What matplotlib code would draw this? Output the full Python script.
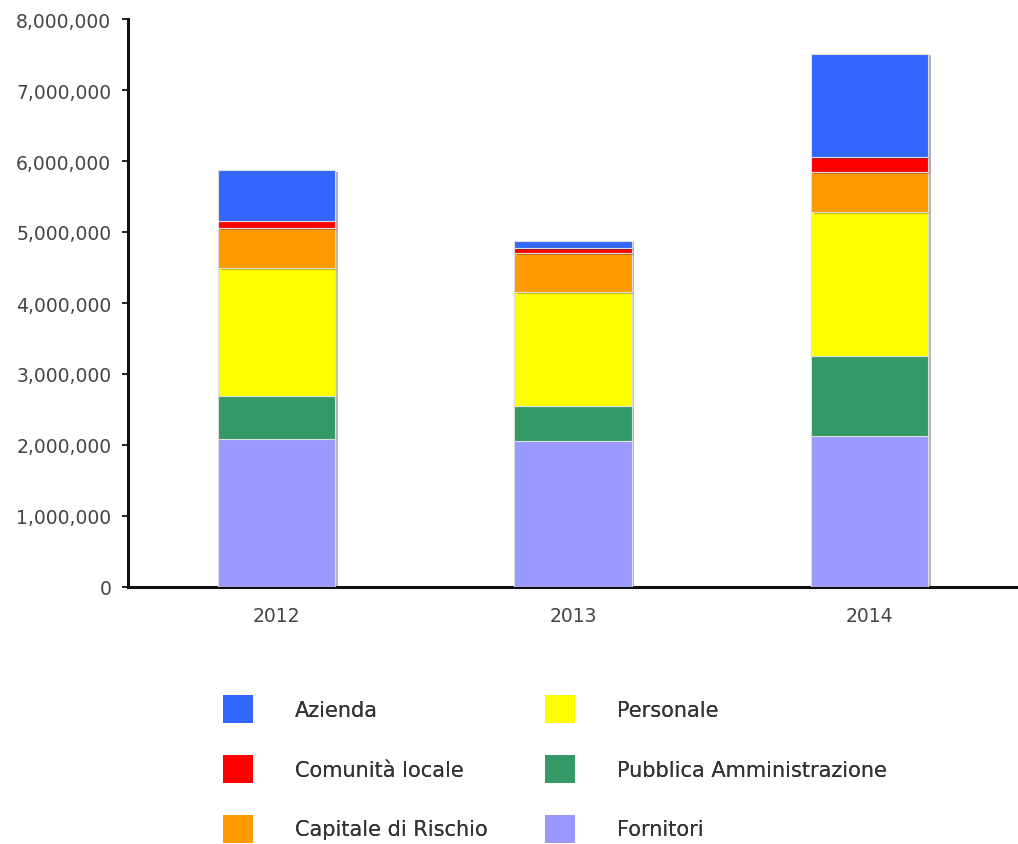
import numpy as np
import matplotlib.pyplot as plt
import matplotlib.patheffects as pe
from matplotlib.patches import Patch
from matplotlib.ticker import FuncFormatter

plt.rcParams['font.family'] = ['DejaVu Sans']

# Dati
anni = ['2012', '2013', '2014']
fornitori = [2090000, 2060000, 2130000]
pubblica_amm = [600000, 490000, 1130000]
personale = [1800000, 1600000, 2020000]
capitale_rischio = [560000, 550000, 560000]
comunita_locale = [110000, 70000, 210000]
azienda = [710000, 110000, 1460000]

serie = [
    ('Fornitori', fornitori, '#9999FF'),
    ('Pubblica Amministrazione', pubblica_amm, '#339966'),
    ('Personale', personale, '#FFFF00'),
    ('Capitale di Rischio', capitale_rischio, '#FF9900'),
    ('Comunità locale', comunita_locale, '#FF0000'),
    ('Azienda', azienda, '#3366FF'),
]

fig = plt.figure(figsize=(10.18, 8.45), dpi=100)
ax = fig.add_axes([128 / 1018, 1 - 588 / 845, 1 - 128 / 1018, (588 - 20) / 845])

x = np.arange(len(anni))
base = np.zeros(len(anni))
for nome, valori, colore in serie:
    bars = ax.bar(x, valori, 0.395, bottom=base, color=colore,
                  edgecolor='#dddddd', linewidth=0.8, zorder=3)
    for b in bars:
        b.set_path_effects([pe.SimplePatchShadow(offset=(2, -1), alpha=0.35),
                            pe.Normal()])
    base += np.array(valori)

ax.set_xlim(-0.5, 2.5)
ax.set_ylim(0, 8000000)
ax.set_yticks(np.arange(0, 8000001, 1000000))
ax.yaxis.set_major_formatter(FuncFormatter(lambda v, p: f'{int(v):,}'))
ax.set_xticks(x)
ax.set_xticklabels(anni)

for s in ['top', 'right']:
    ax.spines[s].set_visible(False)
for s in ['left', 'bottom']:
    ax.spines[s].set_linewidth(2.2)
    ax.spines[s].set_color('#111111')

ax.tick_params(axis='y', length=4, width=1.2, labelsize=13.5, labelcolor='#444444', pad=8)
ax.tick_params(axis='x', length=0, labelsize=13.5, labelcolor='#444444', pad=14)

# Legenda (due colonne)
colori = {n: c for n, v, c in serie}
colonne = [
    (['Azienda', 'Comunità locale', 'Capitale di Rischio'], 223),
    (['Personale', 'Pubblica Amministrazione', 'Fornitori'], 545),
]
for nomi, xpos in colonne:
    handles = [Patch(facecolor=colori[n], edgecolor='none', label=n) for n in nomi]
    leg = fig.legend(handles=handles, loc='upper left', ncol=1,
                     bbox_to_anchor=(xpos / 1018, 1 - 696 / 845), frameon=False,
                     borderpad=0, borderaxespad=0,
                     prop={'size': 15}, handlelength=1.44, handleheight=1.69,
                     handletextpad=2.0, labelspacing=1.53,
                     labelcolor='#333333')
    fig.add_artist(leg)

fig.savefig('out.png', dpi=100)
